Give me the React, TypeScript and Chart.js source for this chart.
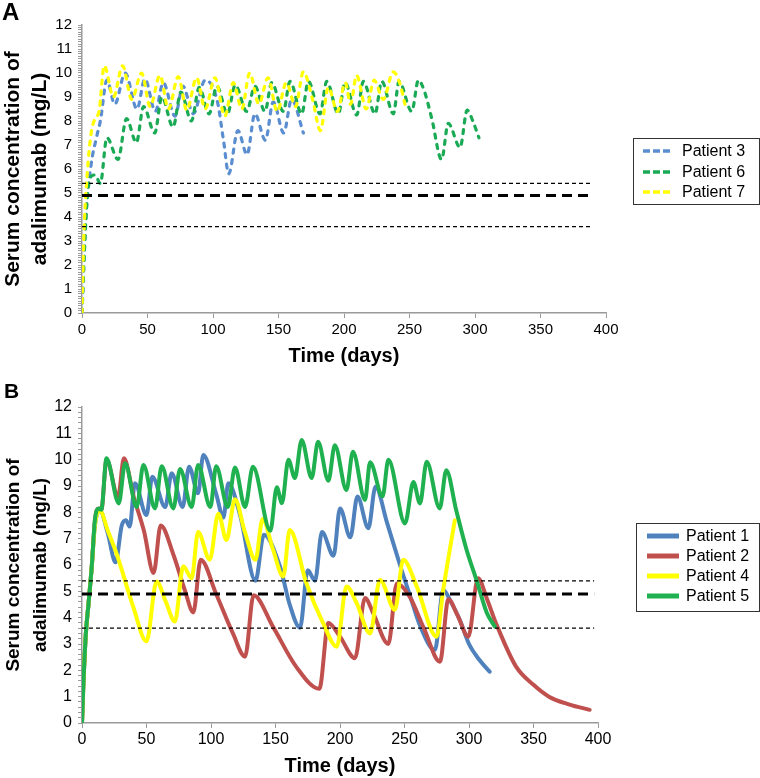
import React, { useEffect, useRef } from "react";
import { Chart, registerables } from "chart.js";

Chart.register(...registerables);

const FONT = "'Liberation Sans', Arial, Helvetica, sans-serif";

// ---------------- Panel A (dashed) ----------------
const p3Days = [0, 3, 7, 11, 14, 19, 25, 33, 42, 48, 56, 62, 71, 77, 85, 94, 103, 108, 112, 119, 126, 132, 140, 146, 154, 160, 169];
const p3Conc = [0, 4.0, 6.2, 7.3, 8.0, 9.7, 8.7, 10.0, 8.5, 9.75, 8.4, 9.6, 8.2, 9.45, 8.3, 9.7, 8.9, 7.2, 5.8, 7.6, 6.6, 8.3, 7.2, 8.8, 7.5, 8.9, 7.5];

const p6Days = [0, 2, 4, 7, 10, 14, 19, 27.5, 34, 41.5, 47, 55.5, 61, 69.5, 75.5, 83.5, 89.5, 97, 103, 111, 117, 125.7, 132, 139.7, 144.8, 153.7, 158.8, 167.7, 172.8, 181.7, 186.8, 195.7, 200.8, 209.7, 214.8, 223.7, 228.8, 237.7, 242, 251.7, 256.8, 261, 267, 274.5, 279.6, 288.6, 294, 299, 303];
const p6Conc = [0, 2.8, 4.8, 5.7, 5.75, 5.4, 7.3, 6.4, 8.1, 7.1, 8.6, 7.5, 9.0, 7.75, 9.2, 8.0, 9.4, 8.3, 9.45, 8.3, 9.5, 8.4, 9.45, 8.4, 9.6, 8.4, 9.65, 8.3, 9.65, 8.3, 9.65, 8.3, 9.6, 8.25, 9.65, 8.3, 9.65, 8.3, 9.65, 8.4, 9.7, 9.3, 8.1, 6.4, 7.9, 6.9, 8.45, 7.9, 7.3];

const p7Days = [0, 1.5, 4, 7, 10, 13, 17, 24, 31, 38, 45.5, 52, 59.5, 66, 73.5, 80, 87.5, 94, 101.5, 109, 115.5, 122, 128, 135, 142, 149, 156, 163, 169, 176, 182, 188, 195, 201, 205, 209.6, 217, 223, 230, 237.6, 242.7, 246.5];
const p7Conc = [0, 3.3, 5.8, 7.5, 8.1, 8.4, 10.3, 9.0, 10.3, 8.9, 10.0, 8.6, 9.9, 8.5, 9.85, 8.45, 9.8, 8.5, 9.8, 8.2, 9.6, 8.5, 10.0, 8.7, 9.8, 8.4, 9.6, 8.6, 10.05, 8.9, 7.6, 9.4, 8.4, 9.6, 8.7, 9.9, 8.5, 9.7, 8.9, 10.05, 9.55, 8.7];

// ---------------- Panel B (solid) ----------------
const p1Days = [0, 1, 3, 5, 7.5, 10, 14, 20, 26, 30.8, 34, 37, 41, 50, 54.5, 64.5, 69.5, 78, 83, 90, 94, 104, 109.6, 113.4, 122.5, 134.5, 141, 153.5, 161, 169, 175, 180.6, 186, 195, 200, 208, 213.5, 222, 227.5, 236.5, 246.5, 254.5, 262, 273.6, 280, 286, 293, 300, 308, 316];
const p1Conc = [0, 1.4, 3.4, 4.5, 5.9, 7.5, 8.05, 7.2, 6.1, 7.5, 7.7, 7.46, 9.1, 7.9, 9.35, 8.2, 9.48, 8.2, 9.73, 8.72, 10.18, 8.7, 7.8, 9.1, 7.9, 5.4, 7.15, 5.94, 4.5, 3.62, 5.8, 5.4, 7.25, 6.35, 8.15, 7.05, 8.6, 7.4, 8.97, 7.6, 6.0, 4.8, 3.7, 2.77, 5.05, 4.6, 3.9, 3.0, 2.4, 1.95];

const p2Days = [0, 1, 3, 5, 7.5, 10, 13, 15, 19, 28, 32.5, 40, 48, 55.5, 61, 70.8, 80, 86.3, 92, 104, 117, 126.4, 133, 148, 166, 184, 191, 200, 211.6, 219.4, 225.8, 237.5, 244, 254, 265, 277.5, 284, 291, 299.5, 307, 314, 321, 336.5, 350, 362, 378, 393.5];
const p2Conc = [0, 1.4, 3.4, 4.5, 5.9, 7.7, 8.15, 8.1, 10.0, 8.6, 10.05, 8.6, 7.3, 5.7, 7.5, 6.4, 5.0, 4.2, 6.2, 4.9, 3.4, 2.52, 4.85, 3.66, 2.14, 1.3, 3.8, 3.28, 2.46, 4.75, 4.16, 3.0, 5.3, 4.8, 3.6, 2.33, 4.7, 4.1, 3.28, 5.5, 4.7, 3.78, 2.14, 1.45, 1.0, 0.7, 0.5];

const p4Days = [0, 1, 3, 5, 7.5, 10, 14, 20, 27, 39.8, 50, 57.8, 65, 72, 78.5, 85, 90, 99, 105.7, 112, 118.6, 126, 134.5, 140, 148, 156, 161, 174, 187, 197.5, 205, 213, 223.3, 231, 242.6, 249, 259.4, 274.9, 280, 289];
const p4Conc = [0, 1.4, 3.4, 4.5, 5.9, 7.5, 8.05, 7.3, 6.4, 4.4, 3.1, 5.37, 4.6, 3.85, 5.95, 5.5, 7.25, 6.2, 7.95, 6.95, 8.5, 7.3, 6.2, 7.75, 6.6, 5.56, 7.33, 5.3, 3.78, 2.9, 5.18, 4.54, 3.4, 5.43, 4.3, 6.2, 5.2, 3.28, 5.05, 7.7];

const p5Days = [0, 1, 3, 5, 7.5, 10, 13, 15, 19, 28.5, 33.4, 42.4, 47.6, 56.6, 61.8, 70.8, 76, 85, 90, 99.5, 104, 113, 118.6, 126.4, 132.5, 146, 151, 155, 160, 165, 170.3, 178, 183, 191, 196, 205, 210, 219.4, 223.3, 233, 237.5, 250.4, 256.9, 262, 267.2, 277.3, 282.4, 290, 298, 306, 313.7, 320];
const p5Conc = [0, 1.4, 3.4, 4.5, 5.9, 7.7, 8.15, 8.1, 10.05, 8.34, 9.86, 8.2, 9.8, 8.15, 9.75, 8.15, 9.65, 8.2, 9.8, 8.2, 9.75, 8.2, 9.7, 8.2, 9.73, 7.3, 8.95, 8.35, 10.0, 9.3, 10.75, 9.3, 10.68, 9.2, 10.55, 8.85, 10.3, 8.47, 9.9, 8.6, 10.0, 7.58, 9.15, 8.34, 9.92, 8.15, 9.6, 8.1, 6.6, 5.4, 4.2, 3.66];

// Reference levels (mg/L) and axis ranges
const thresholdLevels = [5.4, 4.9, 3.6];
const thresholdEndA = 390;
const thresholdEndB = 397;
const xMax = 400;
const xStep = 50;
const yMax = 12;
const yTitle = ["Serum concentration of", "adalimumab (mg/L)"];
const xTitle = "Time (days)";

const pts = (d: number[], c: number[]) => d.map((x, i) => ({ x, y: c[i] }));

function refDatasets(end: number) {
  return thresholdLevels.map((lvl, i) => ({
    label: "ref" + i,
    isRef: true,
    data: [
      { x: 0, y: lvl },
      { x: end, y: lvl },
    ],
    borderColor: "#000",
    borderWidth: i === 1 ? 3 : 1.2,
    borderDash: i === 1 ? [10, 6] : [4, 3],
    pointRadius: 0,
    tension: 0,
    order: -1,
  }));
}

const overlayPlugin = {
  id: "overlay",
  afterDraw(chart: any, _args: any, o: any) {
    const ctx = chart.ctx as CanvasRenderingContext2D;
    ctx.save();
    ctx.fillStyle = "#000";
    ctx.font = `bold ${o.letterSize}px ${FONT}`;
    ctx.textAlign = "left";
    ctx.textBaseline = "alphabetic";
    ctx.fillText(o.letter, o.letterX, o.letterY);
    const L = o.legend;
    ctx.fillStyle = "#fff";
    ctx.fillRect(L.x, L.y, L.w, L.h);
    ctx.strokeStyle = "#333";
    ctx.lineWidth = 1;
    ctx.setLineDash([]);
    ctx.strokeRect(L.x + 0.5, L.y + 0.5, L.w - 1, L.h - 1);
    const items = chart.data.datasets.filter((d: any) => !d.isRef);
    items.forEach((ds: any, i: number) => {
      const y = L.rows[i];
      ctx.beginPath();
      ctx.strokeStyle = ds.borderColor;
      ctx.lineWidth = L.lw;
      ctx.lineCap = "butt";
      ctx.setLineDash(L.dash);
      ctx.moveTo(L.s0, y);
      ctx.lineTo(L.s1, y);
      ctx.stroke();
      ctx.setLineDash([]);
      ctx.fillStyle = "#000";
      ctx.font = `${L.fs}px ${FONT}`;
      ctx.textBaseline = "middle";
      ctx.fillText(ds.label, L.tx, y + 1);
    });
    ctx.restore();
  },
};

type PanelCfg = {
  height: number;
  top: number;
  right: number;
  xAxisH: number;
  yMinor: number;
  tickSize: number;
  xTickPad: number;
  yTitleSize: number;
  xTitlePad: number;
  datasets: any[];
  overlay: any;
};

const dashedA = (label: string, color: string, d: number[], c: number[], order: number) => ({
  label,
  data: pts(d, c),
  borderColor: color,
  backgroundColor: color,
  borderWidth: 3.2,
  borderDash: [4, 6.5],
  borderCapStyle: "round",
  pointRadius: 0,
  cubicInterpolationMode: "monotone",
  order,
});

const solidB = (label: string, color: string, d: number[], c: number[], order: number) => ({
  label,
  data: pts(d, c),
  borderColor: color,
  backgroundColor: color,
  borderWidth: 4,
  borderJoinStyle: "round",
  borderCapStyle: "round",
  pointRadius: 0,
  cubicInterpolationMode: "monotone",
  order,
});

const panelA: PanelCfg = {
  height: 370,
  top: 25,
  right: 154,
  xAxisH: 57,
  yMinor: 0.1,
  tickSize: 15,
  xTickPad: 3,
  yTitleSize: 21,
  xTitlePad: 2,
  datasets: [
    dashedA("Patient 3", "#5b8ed0", p3Days, p3Conc, 3),
    dashedA("Patient 6", "#1aaa55", p6Days, p6Conc, 2),
    dashedA("Patient 7", "#ffff00", p7Days, p7Conc, 1),
    ...refDatasets(thresholdEndA),
  ],
  overlay: {
    letter: "A",
    letterSize: 24,
    letterX: 2,
    letterY: 20,
    legend: { x: 633, y: 138, w: 127, h: 67, rows: [151, 172, 192], s0: 643, s1: 673, tx: 682, lw: 3.5, dash: [7, 3], fs: 16 },
  },
};

const panelB: PanelCfg = {
  height: 408,
  top: 37,
  right: 162,
  xAxisH: 55,
  yMinor: 0.2,
  tickSize: 16,
  xTickPad: 2,
  yTitleSize: 19,
  xTitlePad: 0,
  datasets: [
    solidB("Patient 1", "#4f81bd", p1Days, p1Conc, 4),
    solidB("Patient 2", "#c0504d", p2Days, p2Conc, 3),
    solidB("Patient 4", "#ffff00", p4Days, p4Conc, 2),
    solidB("Patient 5", "#1fb04f", p5Days, p5Conc, 1),
    ...refDatasets(thresholdEndB),
  ],
  overlay: {
    letter: "B",
    letterSize: 21,
    letterX: 4,
    letterY: 28,
    legend: { x: 636, y: 153, w: 124, h: 89, rows: [166, 186, 206, 226], s0: 647, s1: 679, tx: 686, lw: 5, dash: [], fs: 16 },
  },
};

function buildConfig(cfg: PanelCfg): any {
  const axisGrey = "#9a9a9a";
  return {
    type: "line",
    data: { datasets: cfg.datasets },
    plugins: [overlayPlugin],
    options: {
      responsive: false,
      maintainAspectRatio: false,
      animation: false,
      devicePixelRatio: 1,
      events: [],
      layout: { padding: { left: 0, right: cfg.right, top: cfg.top, bottom: 0 } },
      plugins: {
        legend: { display: false },
        tooltip: { enabled: false },
        overlay: cfg.overlay,
      },
      scales: {
        x: {
          type: "linear",
          min: 0,
          max: xMax,
          ticks: {
            stepSize: xStep,
            autoSkip: false,
            maxRotation: 0,
            color: "#000",
            padding: cfg.xTickPad,
            font: { family: FONT, size: cfg.tickSize },
          },
          grid: { drawOnChartArea: false, drawTicks: true, tickLength: 5, color: axisGrey, lineWidth: 1 },
          border: { display: true, color: axisGrey, width: 1.5 },
          title: {
            display: true,
            text: xTitle,
            color: "#000",
            font: { family: FONT, size: 20, weight: "bold", lineHeight: 1.2 },
            padding: { top: 0, bottom: cfg.xTitlePad },
          },
          afterFit: (s: any) => {
            s.height = cfg.xAxisH;
          },
        },
        y: {
          type: "linear",
          min: 0,
          max: yMax,
          ticks: {
            stepSize: cfg.yMinor,
            autoSkip: false,
            color: "#000",
            padding: 6,
            font: { family: FONT, size: cfg.tickSize },
            callback: (v: any) => {
              const n = Number(v);
              return Math.abs(n - Math.round(n)) < 1e-6 ? String(Math.round(n)) : "";
            },
          },
          grid: { drawOnChartArea: false, drawTicks: true, tickLength: 4, color: axisGrey, lineWidth: 1 },
          border: { display: true, color: axisGrey, width: 1.5 },
          title: {
            display: true,
            text: yTitle,
            color: "#000",
            font: { family: FONT, size: cfg.yTitleSize, weight: "bold", lineHeight: 27 / cfg.yTitleSize },
            padding: { top: 0, bottom: 0 },
          },
          afterFit: (s: any) => {
            s.width = 82;
          },
        },
      },
    },
  };
}

function ChartPanel({ cfg }: { cfg: PanelCfg }) {
  const ref = useRef<HTMLCanvasElement>(null);
  useEffect(() => {
    if (!ref.current) return;
    const chart = new Chart(ref.current, buildConfig(cfg));
    return () => chart.destroy();
  }, [cfg]);
  return (
    <canvas
      ref={ref}
      width={760}
      height={cfg.height}
      style={{ display: "block", width: 760, height: cfg.height }}
    />
  );
}

export default function App() {
  return (
    <div style={{ position: "absolute", left: 0, top: 0, width: 760, height: 778, background: "#fff" }}>
      <ChartPanel cfg={panelA} />
      <ChartPanel cfg={panelB} />
    </div>
  );
}
